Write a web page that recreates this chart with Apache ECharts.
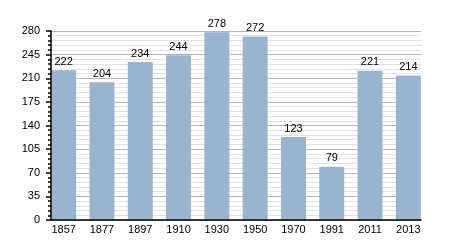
<!DOCTYPE html>
<html><head><meta charset="utf-8">
<script src="https://cdn.jsdelivr.net/npm/echarts@6/dist/echarts.min.js"></script>
<style>html,body{margin:0;padding:0;background:#fff}#c{width:450px;height:250px}</style>
</head><body><div id="c"></div>
<script>
var years = ['1857','1877','1897','1910','1930','1950','1970','1991','2011','2013'];
var population = [222, 204, 234, 244, 278, 272, 123, 79, 221, 214];
var yMin = 0, yMax = 280, yStep = 35;

var chart = echarts.init(document.getElementById('c'), null, {renderer: 'canvas'});
var font = 'Liberation Sans, Arial, sans-serif';
chart.setOption({
  animation: false,
  backgroundColor: '#fff',
  grid: [
    {left: 51, right: 29, top: 31, bottom: 30},
    {left: 44.5, right: 22.5, top: 31, bottom: 30}
  ],
  xAxis: [
    {type: 'category', gridIndex: 0, data: years, z: 5,
     axisLine: {show: true, lineStyle: {color: '#000', width: 1.5}},
     axisTick: {show: false}, axisLabel: {show: false}, splitLine: {show: false}},
    {type: 'category', gridIndex: 1, data: years,
     axisLine: {show: false}, axisTick: {show: false},
     axisLabel: {show: true, color: '#000', fontFamily: font, fontSize: 11, margin: 4}}
  ],
  yAxis: [
    {type: 'value', gridIndex: 0, min: yMin, max: yMax, interval: yStep,
     axisLine: {show: false}, axisTick: {show: false}, axisLabel: {show: false},
     minorTick: {show: false, splitNumber: 5},
     splitLine: {show: true, lineStyle: {color: '#b4b4b4', width: 1}},
     minorSplitLine: {show: true, lineStyle: {color: '#e2e2e2', width: 1}}},
    {type: 'value', gridIndex: 1, min: yMin, max: yMax, show: false, splitLine: {show: false}},
    {type: 'value', gridIndex: 0, min: yMin, max: yMax, interval: yStep, z: 5, position: 'left',
     axisLine: {show: true, lineStyle: {color: '#000', width: 1.5}},
     axisTick: {show: true, length: 5, lineStyle: {color: '#000', width: 1.5}},
     minorTick: {show: true, splitNumber: 5, length: 3, lineStyle: {color: '#000', width: 1.5}},
     axisLabel: {color: '#000', fontFamily: font, fontSize: 11, margin: 11},
     splitLine: {show: false}, minorSplitLine: {show: false}}
  ],
  series: [{
    type: 'bar', xAxisIndex: 1, yAxisIndex: 1, z: 2,
    data: population, barWidth: 25,
    itemStyle: {color: '#9ab3cf'},
    label: {show: true, position: 'top', distance: 3, color: '#000', fontFamily: font, fontSize: 11}
  }]
});
</script></body></html>
